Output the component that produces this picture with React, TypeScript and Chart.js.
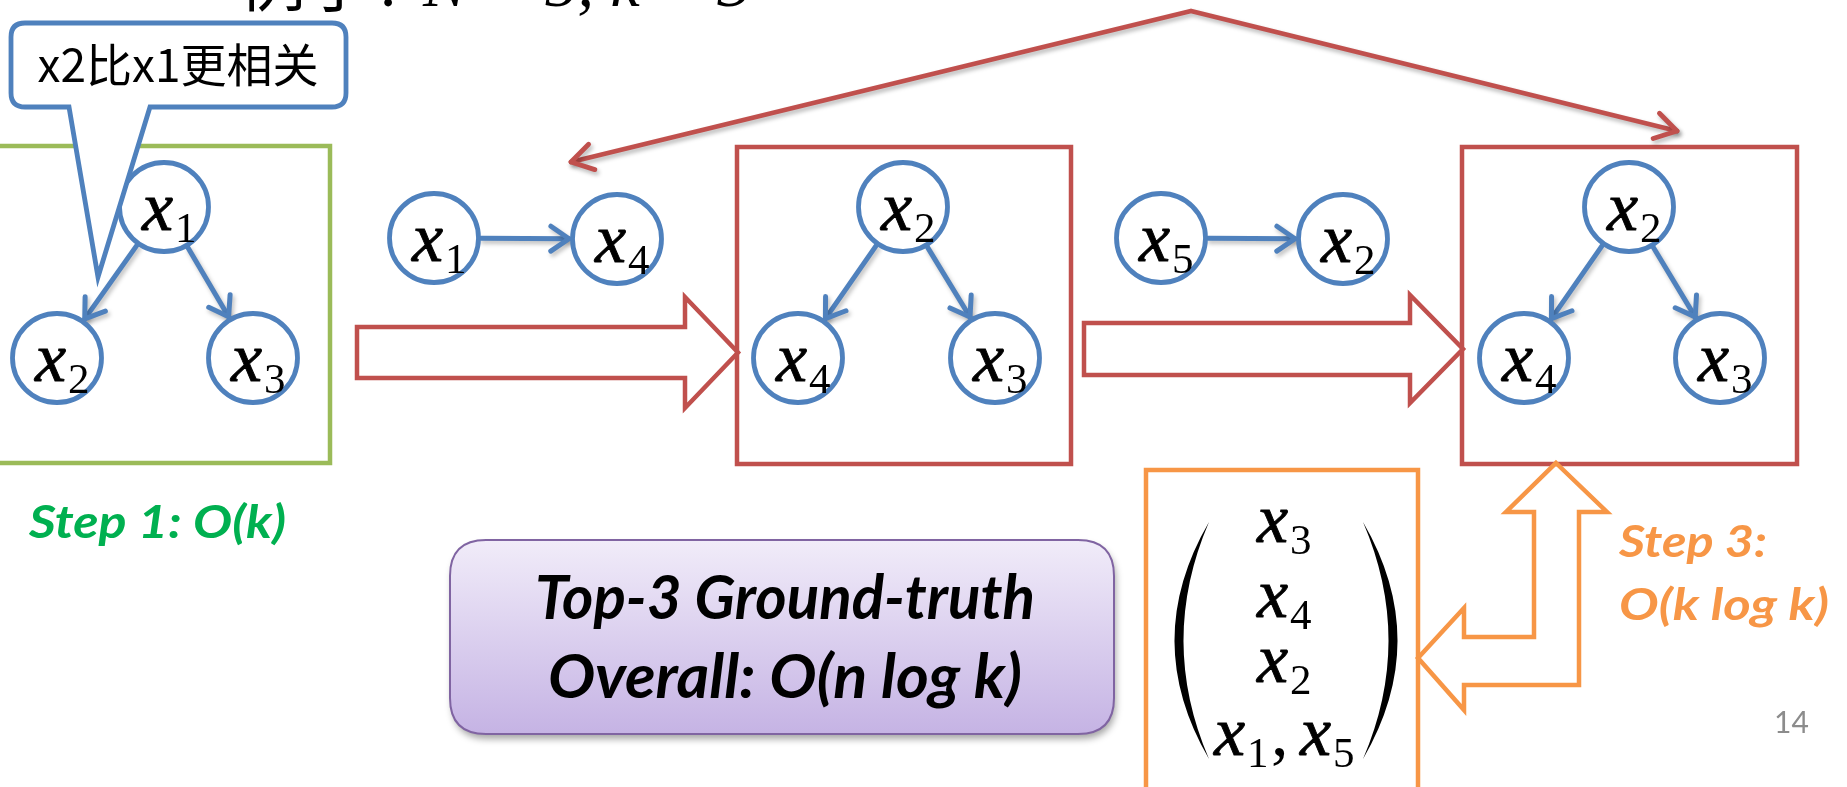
import { useEffect, useRef } from 'react';
import { Chart, registerables } from 'chart.js';

Chart.register(...registerables);

const CANVAS_W = 1847;
const CANVAS_H = 787;

// ---------------- data ----------------
const nodeSubscripts = ['1', '2', '3', '1', '4', '2', '4', '3', '5', '2', '2', '4', '3'];
const nodeX = [164, 57, 253, 434, 617, 903, 798, 995, 1161, 1343, 1629, 1524, 1720];
const nodeY = [207, 358, 358, 238, 239, 207, 358, 358, 238, 239, 207, 358, 358];
const edgeFrom = [0, 0, 3, 5, 5, 8, 10, 10];
const edgeTo = [1, 2, 4, 6, 7, 9, 11, 12];
const rankedSubscripts = ['3', '4', '2'];
const tiedSubscripts = ['1', '5'];
const calloutText = 'x2比x1更相关';
const titleCjk = '例子';
const titleColon = ':';
const titleMath = 'N = 5, k = 3';
const step1Text = 'Step 1: O(k)';
const step3Lines = ['Step 3:', 'O(k log k)'];
const summaryLines = ['Top-3 Ground-truth', 'Overall: O(n log k)'];
const pageNumber = '14';

// ---------------- styles / layout ----------------
const BLUE = '#4F81BD';
const RED = '#C0504D';
const GREEN = '#9BBB59';
const GREEN_TEXT = '#00B050';
const ORANGE = '#F79646';
const PURPLE = '#8064A2';

const L = {
  nodeR: 44.5,
  nodeStroke: 4.8,
  gapStart: 47,
  gapEnd: 48,
  frames: [
    { x0: -10, y0: 146, x1: 330, y1: 463, color: GREEN },
    { x0: 737, y0: 147, x1: 1071, y1: 464, color: RED },
    { x0: 1462, y0: 147, x1: 1797, y1: 464, color: RED },
  ],
  blockArrows: [
    { x0: 357, xh: 685, tip: 738, yc: 352.5, half: 25.5, headHalf: 55.5 },
    { x0: 1084, xh: 1410, tip: 1463, yc: 349, half: 26, headHalf: 54 },
  ],
  connector: [
    [571, 162],
    [1191, 11],
    [1677, 131],
  ],
  callout: { x0: 11, y0: 23, x1: 346, y1: 107, r: 14, tail: [[69, 107], [98, 277], [150, 107]], cx: 178, base: 82, w: 281 },
  orangeBox: { x0: 1146, y0: 470, x1: 1418, y1: 800 },
  lArrow: [
    [1556, 463], [1607, 512], [1579, 512], [1579, 685], [1464, 685], [1464, 710],
    [1418, 658], [1464, 608], [1464, 637], [1534, 637], [1534, 512], [1506, 512],
  ],
  matrixLeft: 1257,
  matrixTiedLeft: 1214,
  matrixBaselines: [542, 617, 682, 755],
  parenLeft: { x: 1209, ctrlOut: 1140, ctrlIn: 1158, y0: 522, y1: 759 },
  parenRight: { x: 1363, ctrlOut: 1432, ctrlIn: 1414, y0: 522, y1: 759 },
  purple: { x0: 450, y0: 540, x1: 1114, y1: 734, r: 36 },
  summary: { cx: 785, bases: [619, 698], widths: [500, 474], size: 61 },
  step1: { x: 29, base: 538, w: 257, size: 46 },
  step3: { x: 1619, bases: [557, 620], widths: [148, 210], size: 43 },
  page: { x: 1774, base: 733, size: 30 },
  title: { cjkRight: 372, cjkBase: 6, colonX: 379, mathX: 423, base: 6, size: 66 },
  xFont: 'italic 70px "Liberation Serif"',
  subFont: '43px "Liberation Serif"',
  xOffX: -22,
  xOffY: 23,
  subOffX: 33,
  subOffY: 12,
};

const BOLD_FAMILY = 'Lato, "Open Sans", sans-serif';

function fitSize(ctx: CanvasRenderingContext2D, text: string, style: string, family: string, width: number) {
  ctx.font = `${style} 100px ${family}`;
  const w = ctx.measureText(text).width;
  return (100 * width) / w;
}

// draws text at a given font size, squeezed horizontally to a target width (Calibri-like proportions)
function drawSqueezed(ctx: CanvasRenderingContext2D, text: string, font: string, x: number, y: number, width: number, align: CanvasTextAlign) {
  ctx.font = font;
  const w = ctx.measureText(text).width;
  const s = width / w;
  ctx.save();
  ctx.translate(x, y);
  ctx.scale(s, 1);
  ctx.textAlign = align;
  ctx.textBaseline = 'alphabetic';
  ctx.fillText(text, 0, 0);
  ctx.restore();
}

function chevron(ctx: CanvasRenderingContext2D, tx: number, ty: number, ang: number, len: number, half: number) {
  ctx.beginPath();
  ctx.moveTo(tx - len * Math.cos(ang - half), ty - len * Math.sin(ang - half));
  ctx.lineTo(tx, ty);
  ctx.lineTo(tx - len * Math.cos(ang + half), ty - len * Math.sin(ang + half));
  ctx.stroke();
}

function roundRectPath(ctx: CanvasRenderingContext2D, x0: number, y0: number, x1: number, y1: number, r: number) {
  ctx.beginPath();
  ctx.moveTo(x0 + r, y0);
  ctx.lineTo(x1 - r, y0);
  ctx.quadraticCurveTo(x1, y0, x1, y0 + r);
  ctx.lineTo(x1, y1 - r);
  ctx.quadraticCurveTo(x1, y1, x1 - r, y1);
  ctx.lineTo(x0 + r, y1);
  ctx.quadraticCurveTo(x0, y1, x0, y1 - r);
  ctx.lineTo(x0, y0 + r);
  ctx.quadraticCurveTo(x0, y0, x0 + r, y0);
  ctx.closePath();
}

function drawXSub(ctx: CanvasRenderingContext2D, left: number, base: number, sub: string) {
  ctx.fillStyle = '#000';
  ctx.strokeStyle = '#000';
  ctx.lineWidth = 0.9;
  ctx.textAlign = 'left';
  ctx.textBaseline = 'alphabetic';
  ctx.font = L.xFont;
  ctx.fillText('x', left, base);
  ctx.strokeText('x', left, base);
  ctx.font = L.subFont;
  ctx.fillText(sub, left + L.subOffX, base + L.subOffY);
}

const diagramPlugin = {
  id: 'diagram',
  beforeDatasetsDraw(chart: any) {
    const ctx: CanvasRenderingContext2D = chart.ctx;
    const X = (v: number) => chart.scales.x.getPixelForValue(v);
    const Y = (v: number) => chart.scales.y.getPixelForValue(v);
    ctx.save();
    ctx.fillStyle = '#fff';
    ctx.fillRect(0, 0, chart.width, chart.height);

    // frames
    ctx.lineJoin = 'miter';
    for (const f of L.frames) {
      ctx.strokeStyle = f.color;
      ctx.lineWidth = 4.5;
      ctx.strokeRect(X(f.x0), Y(f.y0), X(f.x1) - X(f.x0), Y(f.y1) - Y(f.y0));
    }

    // block arrows
    ctx.strokeStyle = RED;
    ctx.lineWidth = 4.5;
    for (const a of L.blockArrows) {
      ctx.beginPath();
      ctx.moveTo(X(a.x0), Y(a.yc - a.half));
      ctx.lineTo(X(a.xh), Y(a.yc - a.half));
      ctx.lineTo(X(a.xh), Y(a.yc - a.headHalf));
      ctx.lineTo(X(a.tip), Y(a.yc));
      ctx.lineTo(X(a.xh), Y(a.yc + a.headHalf));
      ctx.lineTo(X(a.xh), Y(a.yc + a.half));
      ctx.lineTo(X(a.x0), Y(a.yc + a.half));
      ctx.closePath();
      ctx.stroke();
    }

    // connector with arrowheads at both ends
    ctx.save();
    ctx.shadowColor = 'rgba(0,0,0,0.28)';
    ctx.shadowBlur = 4;
    ctx.shadowOffsetX = 2;
    ctx.shadowOffsetY = 3;
    ctx.strokeStyle = RED;
    ctx.lineWidth = 4.8;
    ctx.lineCap = 'round';
    ctx.lineJoin = 'round';
    const c = L.connector.map(([x, y]) => [X(x), Y(y)]);
    ctx.beginPath();
    ctx.moveTo(c[0][0], c[0][1]);
    for (let i = 1; i < c.length; i++) ctx.lineTo(c[i][0], c[i][1]);
    ctx.stroke();
    const a0 = Math.atan2(c[0][1] - c[1][1], c[0][0] - c[1][0]);
    chevron(ctx, c[0][0], c[0][1], a0, 25, 0.55);
    const n = c.length - 1;
    const a1 = Math.atan2(c[n][1] - c[n - 1][1], c[n][0] - c[n - 1][0]);
    chevron(ctx, c[n][0], c[n][1], a1, 25, 0.55);
    ctx.restore();

    // edges
    ctx.save();
    ctx.shadowColor = 'rgba(0,0,0,0.25)';
    ctx.shadowBlur = 4;
    ctx.shadowOffsetX = 2;
    ctx.shadowOffsetY = 3;
    ctx.strokeStyle = BLUE;
    ctx.lineWidth = 5;
    ctx.lineCap = 'round';
    ctx.lineJoin = 'round';
    for (let k = 0; k < edgeFrom.length; k++) {
      const a = edgeFrom[k];
      const b = edgeTo[k];
      const dx = nodeX[b] - nodeX[a];
      const dy = nodeY[b] - nodeY[a];
      const len = Math.hypot(dx, dy);
      const ux = dx / len;
      const uy = dy / len;
      const sx = X(nodeX[a] + ux * L.gapStart);
      const sy = Y(nodeY[a] + uy * L.gapStart);
      const ex = X(nodeX[b] - ux * L.gapEnd);
      const ey = Y(nodeY[b] - uy * L.gapEnd);
      ctx.beginPath();
      ctx.moveTo(sx, sy);
      ctx.lineTo(ex, ey);
      ctx.stroke();
      chevron(ctx, ex, ey, Math.atan2(ey - sy, ex - sx), 22, 0.6);
    }
    ctx.restore();

    // orange box and L arrow
    ctx.strokeStyle = ORANGE;
    ctx.lineWidth = 4.5;
    ctx.lineJoin = 'miter';
    const ob = L.orangeBox;
    ctx.strokeRect(X(ob.x0), Y(ob.y0), X(ob.x1) - X(ob.x0), Y(ob.y1) - Y(ob.y0));
    ctx.beginPath();
    L.lArrow.forEach(([x, y], i) => (i === 0 ? ctx.moveTo(X(x), Y(y)) : ctx.lineTo(X(x), Y(y))));
    ctx.closePath();
    ctx.stroke();

    // purple summary box
    const p = L.purple;
    ctx.save();
    ctx.shadowColor = 'rgba(0,0,0,0.35)';
    ctx.shadowBlur = 7;
    ctx.shadowOffsetX = 2;
    ctx.shadowOffsetY = 5;
    roundRectPath(ctx, X(p.x0), Y(p.y0), X(p.x1), Y(p.y1), p.r);
    const g = ctx.createLinearGradient(0, Y(p.y0), 0, Y(p.y1));
    g.addColorStop(0, '#F1ECF9');
    g.addColorStop(1, '#C5B3E4');
    ctx.fillStyle = g;
    ctx.fill();
    ctx.restore();
    roundRectPath(ctx, X(p.x0), Y(p.y0), X(p.x1), Y(p.y1), p.r);
    ctx.strokeStyle = PURPLE;
    ctx.lineWidth = 2;
    ctx.stroke();

    ctx.restore();
  },
  afterDatasetsDraw(chart: any) {
    const ctx: CanvasRenderingContext2D = chart.ctx;
    const X = (v: number) => chart.scales.x.getPixelForValue(v);
    const Y = (v: number) => chart.scales.y.getPixelForValue(v);
    ctx.save();

    // node labels
    for (let i = 0; i < nodeX.length; i++) {
      drawXSub(ctx, X(nodeX[i] + L.xOffX), Y(nodeY[i] + L.xOffY), nodeSubscripts[i]);
    }

    // matrix
    rankedSubscripts.forEach((s, i) => drawXSub(ctx, X(L.matrixLeft), Y(L.matrixBaselines[i]), s));
    const tb = L.matrixBaselines[3];
    drawXSub(ctx, X(L.matrixTiedLeft), Y(tb), tiedSubscripts[0]);
    ctx.font = L.xFont.replace('italic ', '');
    ctx.fillText(',', X(L.matrixTiedLeft + 57), Y(tb));
    drawXSub(ctx, X(L.matrixTiedLeft + 86), Y(tb), tiedSubscripts[1]);

    // parentheses
    ctx.fillStyle = '#000';
    for (const pr of [L.parenLeft, L.parenRight]) {
      ctx.beginPath();
      ctx.moveTo(X(pr.x), Y(pr.y0));
      ctx.quadraticCurveTo(X(pr.ctrlOut), Y((pr.y0 + pr.y1) / 2), X(pr.x), Y(pr.y1));
      ctx.quadraticCurveTo(X(pr.ctrlIn), Y((pr.y0 + pr.y1) / 2), X(pr.x), Y(pr.y0));
      ctx.closePath();
      ctx.fill();
    }

    // callout
    const co = L.callout;
    ctx.beginPath();
    const r = co.r;
    const [t0, t1, t2] = co.tail;
    ctx.moveTo(X(co.x0 + r), Y(co.y0));
    ctx.lineTo(X(co.x1 - r), Y(co.y0));
    ctx.quadraticCurveTo(X(co.x1), Y(co.y0), X(co.x1), Y(co.y0 + r));
    ctx.lineTo(X(co.x1), Y(co.y1 - r));
    ctx.quadraticCurveTo(X(co.x1), Y(co.y1), X(co.x1 - r), Y(co.y1));
    ctx.lineTo(X(t2[0]), Y(t2[1]));
    ctx.lineTo(X(t1[0]), Y(t1[1]));
    ctx.lineTo(X(t0[0]), Y(t0[1]));
    ctx.lineTo(X(co.x0 + r), Y(co.y1));
    ctx.quadraticCurveTo(X(co.x0), Y(co.y1), X(co.x0), Y(co.y1 - r));
    ctx.lineTo(X(co.x0), Y(co.y0 + r));
    ctx.quadraticCurveTo(X(co.x0), Y(co.y0), X(co.x0 + r), Y(co.y0));
    ctx.closePath();
    ctx.fillStyle = '#fff';
    ctx.fill();
    ctx.strokeStyle = BLUE;
    ctx.lineWidth = 4.8;
    ctx.lineJoin = 'miter';
    ctx.stroke();
    const cjkFamily = '"Noto Sans CJK SC", sans-serif';
    const cs = fitSize(ctx, calloutText, '', cjkFamily, co.w);
    ctx.font = `${cs}px ${cjkFamily}`;
    ctx.fillStyle = '#000';
    ctx.textAlign = 'center';
    ctx.textBaseline = 'alphabetic';
    ctx.fillText(calloutText, X(co.cx), Y(co.base));

    // title (cut off at the top)
    const t = L.title;
    ctx.font = `${t.size}px ${cjkFamily}`;
    ctx.textAlign = 'right';
    ctx.fillText(titleCjk, X(t.cjkRight), Y(t.cjkBase));
    ctx.textAlign = 'left';
    ctx.font = `${t.size}px "Liberation Serif"`;
    ctx.fillText(titleColon, X(t.colonX), Y(t.base));
    ctx.font = `italic ${t.size}px "Liberation Serif"`;
    ctx.fillText(titleMath, X(t.mathX), Y(t.base));

    // step texts
    ctx.fillStyle = GREEN_TEXT;
    drawSqueezed(ctx, step1Text, `italic bold ${L.step1.size}px ${BOLD_FAMILY}`, X(L.step1.x), Y(L.step1.base), L.step1.w, 'left');

    ctx.fillStyle = ORANGE;
    step3Lines.forEach((line, i) =>
      drawSqueezed(ctx, line, `italic bold ${L.step3.size}px ${BOLD_FAMILY}`, X(L.step3.x), Y(L.step3.bases[i]), L.step3.widths[i], 'left'),
    );

    // summary text
    ctx.fillStyle = '#000';
    summaryLines.forEach((line, i) =>
      drawSqueezed(ctx, line, `italic bold ${L.summary.size}px ${BOLD_FAMILY}`, X(L.summary.cx), Y(L.summary.bases[i]), L.summary.widths[i], 'center'),
    );

    // page number
    ctx.fillStyle = '#8C8C8C';
    ctx.textAlign = 'left';
    ctx.font = `${L.page.size}px Lato, sans-serif`;
    ctx.fillText(pageNumber, X(L.page.x), Y(L.page.base));

    ctx.restore();
  },
};

export default function App() {
  const ref = useRef<HTMLCanvasElement>(null);
  useEffect(() => {
    document.body.style.margin = '0';
    const canvas = ref.current;
    if (!canvas) return;
    const chart = new Chart(canvas, {
      type: 'scatter',
      data: {
        datasets: [
          {
            data: nodeX.map((x, i) => ({ x, y: nodeY[i] })),
            pointRadius: L.nodeR,
            pointHoverRadius: L.nodeR,
            pointBorderWidth: L.nodeStroke,
            pointBackgroundColor: '#fff',
            pointBorderColor: BLUE,
            showLine: false,
          },
        ],
      },
      options: {
        animation: false,
        responsive: false,
        devicePixelRatio: 1,
        events: [],
        layout: { padding: 0, autoPadding: false },
        scales: {
          x: { type: 'linear', min: 0, max: CANVAS_W, display: false },
          y: { type: 'linear', min: 0, max: CANVAS_H, reverse: true, display: false },
        },
        plugins: { legend: { display: false }, tooltip: { enabled: false } },
      },
      plugins: [diagramPlugin],
    });
    return () => chart.destroy();
  }, []);
  return (
    <div style={{ position: 'fixed', left: 0, top: 0, width: CANVAS_W, height: CANVAS_H, background: '#fff' }}>
      <canvas ref={ref} width={CANVAS_W} height={CANVAS_H} style={{ width: CANVAS_W, height: CANVAS_H, display: 'block' }} />
    </div>
  );
}
